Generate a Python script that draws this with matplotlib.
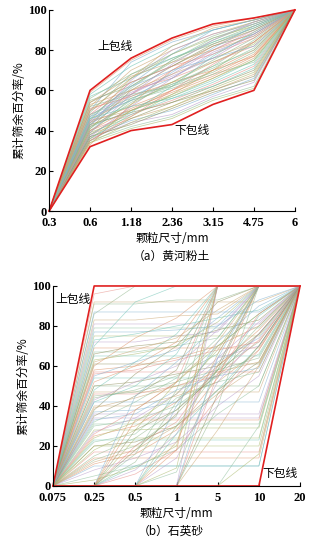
import matplotlib
matplotlib.use("Agg")
import matplotlib.pyplot as plt
import numpy as np

plt.rcParams['font.family'] = ['Liberation Serif', 'Noto Sans CJK SC']

# ---- data: (a) yellow river silt ----
silt_sizes = ['0.3', '0.6', '1.18', '2.36', '3.15', '4.75', '6']
silt_upper = [0, 60, 76, 86, 93, 96, 100]
silt_lower = [0, 32, 40, 43, 53, 60, 100]
silt_curves = [
    [0, 55, 62, 75, 85, 93, 100],
    [0, 52, 70, 80, 88, 94, 100],
    [0, 50, 74, 84, 90, 95, 100],
    [0, 48, 58, 68, 80, 90, 100],
    [0, 46, 55, 62, 72, 85, 100],
    [0, 45, 66, 78, 86, 92, 100],
    [0, 44, 52, 60, 70, 80, 100],
    [0, 42, 50, 57, 65, 75, 100],
    [0, 41, 60, 72, 83, 91, 100],
    [0, 40, 48, 55, 63, 72, 100],
    [0, 39, 56, 64, 75, 86, 100],
    [0, 38, 46, 52, 60, 68, 100],
    [0, 37, 45, 50, 58, 66, 100],
    [0, 36, 44, 48, 57, 64, 100],
    [0, 35, 42, 47, 56, 62, 100],
    [0, 34, 41, 46, 55, 61, 100],
    [0, 33, 53, 70, 82, 90, 100],
    [0, 58, 72, 82, 90, 95, 100],
    [0, 54, 64, 72, 82, 88, 100],
    [0, 50, 60, 66, 74, 82, 100],
    [0, 47, 62, 74, 84, 92, 100],
    [0, 45, 50, 58, 66, 76, 100],
    [0, 43, 57, 66, 78, 88, 100],
    [0, 42, 65, 80, 88, 93, 100],
    [0, 40, 54, 63, 72, 80, 100],
    [0, 39, 47, 58, 70, 84, 100],
    [0, 38, 50, 60, 68, 78, 100],
    [0, 36, 48, 56, 64, 73, 100],
    [0, 35, 46, 54, 62, 70, 100],
    [0, 44, 58, 70, 80, 89, 100],
    [0, 49, 68, 76, 83, 90, 100],
    [0, 53, 60, 68, 76, 84, 100],
    [0, 46, 63, 78, 90, 95, 100],
    [0, 37, 52, 66, 79, 87, 100],
    [0, 41, 55, 61, 68, 74, 100],
    [0, 34, 44, 52, 61, 69, 100],
    [0, 51, 57, 64, 70, 77, 100],
    [0, 57, 66, 76, 84, 91, 100],
    [0, 43, 49, 54, 60, 67, 100],
    [0, 48, 64, 72, 78, 86, 100],
    [0, 56, 68, 78, 87, 94, 100],
    [0, 50, 66, 82, 91, 95, 100],
    [0, 47, 55, 69, 81, 92, 100],
    [0, 45, 59, 67, 76, 88, 100],
    [0, 43, 61, 75, 86, 93, 100],
    [0, 42, 53, 64, 74, 83, 100],
    [0, 40, 51, 59, 67, 77, 100],
    [0, 38, 49, 62, 77, 89, 100],
    [0, 37, 43, 51, 59, 65, 100],
    [0, 35, 47, 60, 73, 84, 100],
    [0, 52, 58, 62, 69, 79, 100],
    [0, 54, 67, 74, 80, 87, 100],
    [0, 44, 62, 70, 76, 82, 100],
    [0, 39, 58, 73, 85, 94, 100],
    [0, 48, 56, 63, 71, 81, 100],
    [0, 36, 50, 57, 66, 75, 100],
    [0, 59, 75, 85, 92, 96, 100],
    [0, 46, 52, 56, 62, 71, 100],
]

# ---- data: (b) quartz sand ----
sand_sizes = ['0.075', '0.25', '0.5', '1', '5', '10', '20']
sand_upper = [0, 100, 100, 100, 100, 100, 100]
sand_lower = [0, 0, 0, 0, 0, 0, 100]
sand_curves = [
    [0, 91, 91, 93, 93, 100, 100],
    [0, 83, 83, 85, 86, 100, 100],
    [0, 77, 77, 78, 80, 100, 100],
    [0, 72, 72, 75, 77, 100, 100],
    [0, 67, 67, 70, 74, 100, 100],
    [0, 63, 66, 70, 82, 100, 100],
    [0, 58, 60, 64, 70, 80, 100],
    [0, 54, 54, 54, 54, 85, 100],
    [0, 50, 52, 56, 60, 76, 100],
    [0, 46, 46, 50, 55, 73, 100],
    [0, 44, 48, 55, 66, 100, 100],
    [0, 40, 40, 45, 52, 68, 100],
    [0, 37, 38, 42, 62, 74, 100],
    [0, 34, 34, 34, 34, 34, 100],
    [0, 30, 33, 40, 55, 66, 100],
    [0, 28, 28, 29, 29, 29, 100],
    [0, 25, 30, 42, 60, 78, 100],
    [0, 23, 23, 23, 23, 23, 100],
    [0, 20, 22, 30, 48, 62, 100],
    [0, 17, 17, 17, 17, 17, 100],
    [0, 15, 24, 38, 58, 72, 100],
    [0, 12, 18, 30, 46, 60, 100],
    [0, 10, 10, 10, 10, 10, 100],
    [0, 8, 14, 22, 40, 55, 100],
    [0, 5, 10, 18, 36, 50, 100],
    [0, 3, 9, 20, 100, 100, 100],
    [0, 60, 74, 84, 100, 100, 100],
    [0, 48, 62, 76, 100, 100, 100],
    [0, 38, 56, 70, 92, 100, 100],
    [0, 96, 100, 100, 100, 100, 100],
    [0, 86, 100, 100, 100, 100, 100],
    [0, 92, 92, 92, 92, 92, 100],
    [0, 87, 87, 87, 87, 87, 100],
    [0, 81, 81, 81, 81, 81, 100],
    [0, 79, 79, 79, 79, 79, 100],
    [0, 75, 75, 75, 75, 75, 100],
    [0, 69, 69, 69, 69, 69, 100],
    [0, 65, 65, 65, 65, 65, 100],
    [0, 61, 61, 61, 61, 61, 100],
    [0, 57, 57, 57, 57, 57, 100],
    [0, 50, 50, 50, 50, 50, 100],
    [0, 47, 47, 47, 47, 47, 100],
    [0, 42, 42, 42, 42, 42, 100],
    [0, 36, 36, 36, 36, 36, 100],
    [0, 31, 31, 31, 31, 31, 100],
    [0, 20, 20, 20, 20, 20, 100],
    [0, 14, 14, 14, 14, 14, 100],
    [0, 73, 76, 80, 84, 88, 100],
    [0, 66, 70, 72, 78, 83, 100],
    [0, 56, 58, 63, 68, 72, 100],
    [0, 45, 47, 52, 58, 64, 100],
    [0, 39, 44, 50, 57, 62, 100],
    [0, 33, 36, 48, 55, 59, 100],
    [0, 27, 34, 46, 64, 70, 100],
    [0, 22, 26, 44, 52, 57, 100],
    [0, 18, 28, 52, 70, 86, 100],
    [0, 52, 60, 72, 100, 100, 100],
    [0, 42, 50, 66, 100, 100, 100],
    [0, 35, 45, 58, 100, 100, 100],
    [0, 26, 38, 52, 100, 100, 100],
    [0, 13, 20, 35, 100, 100, 100],
    [0, 62, 68, 74, 88, 100, 100],
    [0, 55, 62, 68, 84, 100, 100],
    [0, 43, 52, 60, 78, 100, 100],
    [0, 32, 42, 54, 74, 100, 100],
    [0, 24, 32, 46, 68, 100, 100],
    [0, 11, 16, 28, 54, 100, 100],
    [0, 70, 92, 100, 100, 100, 100],
    [0, 0, 28, 38, 56, 76, 100],
    [0, 0, 20, 32, 60, 100, 100],
    [0, 0, 12, 42, 70, 86, 100],
    [0, 0, 38, 52, 72, 100, 100],
    [0, 0, 45, 62, 80, 93, 100],
    [0, 0, 8, 26, 64, 82, 100],
    [0, 0, 16, 48, 100, 100, 100],
    [0, 0, 24, 24, 24, 24, 100],
    [0, 0, 33, 33, 33, 33, 100],
    [0, 0, 10, 10, 10, 10, 100],
    [0, 0, 18, 36, 58, 100, 100],
    [0, 0, 6, 18, 44, 68, 100],
    [0, 0, 0, 30, 58, 80, 100],
    [0, 0, 0, 22, 66, 100, 100],
    [0, 0, 0, 40, 72, 90, 100],
    [0, 0, 0, 14, 52, 76, 100],
    [0, 0, 0, 7, 60, 100, 100],
    [0, 0, 0, 9, 100, 100, 100],
    [0, 0, 0, 18, 100, 100, 100],
    [0, 0, 0, 26, 48, 70, 100],
    [0, 0, 0, 0, 46, 70, 100],
    [0, 0, 0, 0, 56, 86, 100],
    [0, 0, 0, 0, 40, 100, 100],
    [0, 0, 0, 0, 28, 60, 100],
    [0, 0, 0, 0, 64, 100, 100],
    [0, 0, 0, 0, 100, 100, 100],
    [0, 0, 0, 0, 0, 30, 100],
    [0, 0, 0, 0, 0, 16, 100],
]

palette = ['#8fb58a', '#c9a46e', '#7fb0cf', '#b79ac9', '#8cbf9a',
           '#a8b868', '#dd8f62', '#6fc4b4', '#8e8f5c', '#e68c84']
red = '#e02020'
cjk = ['Noto Sans CJK SC', 'DejaVu Sans']

fig = plt.figure(figsize=(3.23, 5.51), dpi=100)
ax1 = fig.add_axes([0.152, 0.617, 0.761, 0.365])
ax2 = fig.add_axes([0.164, 0.118, 0.765, 0.363])


def style(ax, labels):
    ax.set_xlim(0, 6)
    ax.set_ylim(0, 100)
    ax.set_xticks(range(7))
    ax.set_xticklabels(labels)
    ax.set_yticks([0, 20, 40, 60, 80, 100])
    ax.spines['top'].set_visible(False)
    ax.spines['right'].set_visible(False)
    ax.tick_params(axis='x', direction='in', length=3, labelsize=9, width=0.8, pad=4.5)
    ax.tick_params(axis='y', direction='in', length=3, labelsize=9, width=0.8, pad=1.5)
    for t in ax.get_xticklabels() + ax.get_yticklabels():
        t.set_fontweight('bold')
    ax.set_xlabel('颗粒尺寸/mm', family=cjk, fontsize=8.5, labelpad=2)
    ax.set_ylabel('累计筛余百分率/%', family=cjk, fontsize=8.5, labelpad=2)


x = np.arange(7)
for i, c in enumerate(silt_curves):
    ax1.plot(x, c, color=palette[i % len(palette)], lw=0.55, alpha=0.65)
ax1.plot(x, silt_upper, color=red, lw=1.2, clip_on=False)
ax1.plot(x, silt_lower, color=red, lw=1.2, clip_on=False)
style(ax1, silt_sizes)
ax1.text(1.6, 82, '上包线', family=cjk, fontsize=8.5, ha='center', va='center')
ax1.text(3.5, 40, '下包线', family=cjk, fontsize=8.5, ha='center', va='center')
fig.text(0.53, 0.535, '（a）黄河粉土', family=cjk, fontsize=8.5, ha='center', va='center')

for i, c in enumerate(sand_curves):
    ax2.plot(x, c, color=palette[i % len(palette)], lw=0.5, alpha=0.6)
ax2.plot(x, sand_upper, color=red, lw=1.2, clip_on=False)
ax2.plot(x, sand_lower, color=red, lw=1.2, clip_on=False)
style(ax2, sand_sizes)
ax2.text(0.05, 93, '上包线', family=cjk, fontsize=8.5, ha='left', va='center')
ax2.text(5.95, 6, '下包线', family=cjk, fontsize=8.5, ha='right', va='center')
fig.text(0.53, 0.036, '（b）石英砂', family=cjk, fontsize=8.5, ha='center', va='center')

fig.savefig('out.png', dpi=100)
